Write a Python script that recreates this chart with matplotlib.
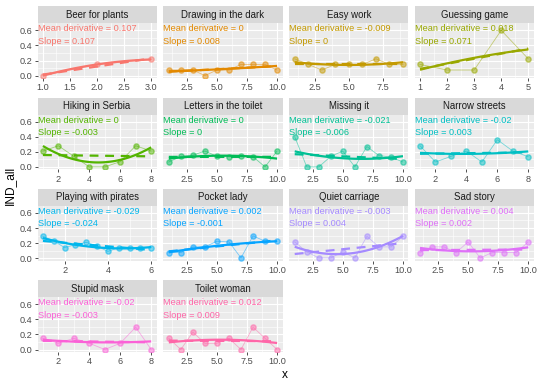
import numpy as np
import matplotlib.pyplot as plt

plt.rcParams['font.family'] = ['Liberation Sans', 'DejaVu Sans']

titles = ['Beer for plants', 'Drawing in the dark', 'Easy work', 'Guessing game',
          'Hiking in Serbia', 'Letters in the toilet', 'Missing it', 'Narrow streets',
          'Playing with pirates', 'Pocket lady', 'Quiet carriage', 'Sad story',
          'Stupid mask', 'Toilet woman']

# ggplot hue palette, 14 levels
colors = ['#F8766D', '#E38900', '#C49A00', '#99A800', '#53B400', '#00BC56', '#00C094',
          '#00BFC4', '#00B6EB', '#06A4FF', '#A58AFF', '#DF70F8', '#FB61D7', '#FF66A8']

mean_deriv = ['0.107', '0', '-0.009', '0.018', '0', '0', '-0.021', '-0.02',
              '-0.029', '0.002', '-0.003', '0.004', '-0.02', '0.012']
slopes = ['0.107', '0.008', '0', '0.071', '-0.003', '0', '-0.006', '0.003',
          '-0.024', '-0.001', '0.004', '0.002', '-0.003', '0.009']

x3 = [1, 2, 3]
x5 = [1, 2, 3, 4, 5]
x8 = [1, 2, 3, 4, 5, 6, 7, 8]
x9 = [1, 2, 3, 4, 5, 6, 7, 8, 9]
x10 = [1, 2, 3, 4, 5, 6, 7, 8, 9, 10]
x_pirates = [1, 1.5, 2, 2.5, 3, 3.5, 4, 4.5, 5, 5.5, 6]

beer_y = [0.0, 0.148, 0.214]
drawing_y = [0.074, 0.074, 0.074, 0.0, 0.074, 0.074, 0.148, 0.148, 0.148, 0.074]
easy_y = [0.222, 0.148, 0.074, 0.148, 0.148, 0.148, 0.222, 0.148, 0.148]
guessing_y = [0.148, 0.074, 0.074, 0.6, 0.222]
hiking_y = [0.21, 0.28, 0.14, 0.0, 0.0, 0.07, 0.28, 0.21]
letters_y = [0.065, 0.14, 0.155, 0.21, 0.14, 0.135, 0.14, 0.135, 0.0, 0.21]
missing_y = [0.40, 0.0, 0.0, 0.14, 0.21, 0.0, 0.27, 0.15, 0.13, 0.065]
narrow_y = [0.28, 0.065, 0.14, 0.21, 0.065, 0.36, 0.21, 0.135]
pirates_y = [0.29, 0.23, 0.14, 0.18, 0.21, 0.16, 0.09, 0.14, 0.14, 0.14, 0.14]
pocket_y = [0.075, 0.075, 0.15, 0.15, 0.225, 0.216, 0.004, 0.295, 0.225, 0.225]
quiet_y = [0.216, 0.084, 0.004, 0.004, 0.084, 0.004, 0.29, 0.15, 0.15, 0.29]
sad_y = [0.075, 0.15, 0.15, 0.075, 0.216, 0.004, 0.075, 0.075, 0.075, 0.216]
stupid_y = [0.148, 0.083, 0.148, 0.083, 0.0, 0.083, 0.296, 0.0]
toilet_y = [0.148, 0.0, 0.23, 0.083, 0.083, 0.148, 0.0, 0.296, 0.148, 0.0]

xs = [x3, x10, x9, x5, x8, x10, x10, x8, x_pirates, x10, x10, x10, x8, x10]
ys = [beer_y, drawing_y, easy_y, guessing_y, hiking_y, letters_y, missing_y, narrow_y,
      pirates_y, pocket_y, quiet_y, sad_y, stupid_y, toilet_y]

ticks_quarter = [2.5, 5.0, 7.5, 10.0]
xticks = [[1.0, 1.5, 2.0, 2.5, 3.0], ticks_quarter, [2.5, 5.0, 7.5], [1, 2, 3, 4, 5],
          [2, 4, 6, 8], ticks_quarter, ticks_quarter, [2, 4, 6, 8],
          [2, 4, 6], ticks_quarter, ticks_quarter, ticks_quarter, [2, 4, 6, 8], ticks_quarter]
yticks = [0.0, 0.2, 0.4, 0.6]

W, H = 540, 386
fig = plt.figure(figsize=(W / 100, H / 100), dpi=100)

col_left = [37.5, 163.4, 289.3, 414.6]
row_top = [23.3, 114.6, 205.9, 297.2]
pw, ph, sh = 119.1, 54.8, 17.0
ylim = (-0.033, 0.693)


def fmt_ticks(t):
    if all(float(v).is_integer() for v in t) and all(isinstance(v, int) for v in t):
        return [str(v) for v in t]
    return ['%.1f' % v for v in t]


for i, title in enumerate(titles):
    r, c = divmod(i, 4)
    left, top = col_left[c], row_top[r]
    ax = fig.add_axes([left / W, 1 - (top + ph) / H, pw / W, ph / H])
    ax.set_facecolor('#EBEBEB')
    for s in ax.spines.values():
        s.set_visible(False)

    x = np.array(xs[i], dtype=float)
    y = np.array(ys[i], dtype=float)
    col = colors[i]
    span = x.max() - x.min()
    ax.set_xlim(x.min() - 0.05 * span, x.max() + 0.05 * span)
    ax.set_ylim(*ylim)

    # grid: major + minor
    t = xticks[i]
    step = t[1] - t[0]
    minor_x = np.arange(t[0] - step / 2, x.max() + 0.05 * span, step)
    for mx in minor_x:
        ax.axvline(mx, color='white', lw=0.4, zorder=0)
    for my in [0.1, 0.3, 0.5]:
        ax.axhline(my, color='white', lw=0.4, zorder=0)
    for mx in t:
        ax.axvline(mx, color='white', lw=0.8, zorder=0)
    for my in yticks:
        ax.axhline(my, color='white', lw=0.8, zorder=0)

    ax.plot(x, y, color=col, lw=0.6, alpha=0.5, zorder=2)
    ax.plot(x, y, 'o', color=col, ms=3.8, alpha=0.5, mec=col, zorder=2)

    xx = np.linspace(x.min(), x.max(), 80)
    quad = np.polyval(np.polyfit(x, y, 2), xx)
    lin = np.polyval(np.polyfit(x, y, 1), xx)
    ax.plot(xx, quad, color=col, lw=1.6, zorder=3, solid_capstyle='butt')
    ax.plot(xx, lin, color=col, lw=1.6, ls=(0, (4, 3)), zorder=3)

    tr = ax.get_yaxis_transform()
    ax.text(0, 0.62, 'Mean derivative = ' + mean_deriv[i], transform=tr, color=col,
            fontsize=6.6, ha='left', va='center', zorder=4)
    ax.text(0, 0.455, 'Slope = ' + slopes[i], transform=tr, color=col,
            fontsize=6.6, ha='left', va='center', zorder=4)

    ax.set_xticks(t)
    ax.set_xticklabels(fmt_ticks(t))
    ax.set_yticks(yticks)
    if c == 0:
        ax.set_yticklabels(['%.1f' % v for v in yticks])
    else:
        ax.tick_params(axis='y', left=False, labelleft=False)
    ax.tick_params(length=2.2, width=0.6, color='#333333', labelcolor='#4D4D4D',
                   labelsize=6.6, pad=1.5)

    sax = fig.add_axes([left / W, 1 - top / H, pw / W, sh / H])
    sax.set_facecolor('#D9D9D9')
    sax.set_xticks([])
    sax.set_yticks([])
    for s in sax.spines.values():
        s.set_visible(False)
    sax.text(0.5, 0.5, title, ha='center', va='center', fontsize=6.9, color='#1A1A1A',
             transform=sax.transAxes)

fig.text(285 / W, 1 - 375 / H, 'x', ha='center', va='center', fontsize=8.6, color='black')
fig.text(10 / W, 1 - 185 / H, 'IND_all', ha='center', va='center', fontsize=8.6,
         rotation=90, color='black')

fig.savefig('out.png', dpi=100)
